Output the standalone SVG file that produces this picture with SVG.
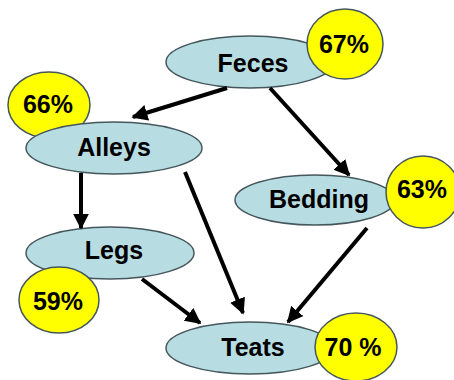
<svg xmlns="http://www.w3.org/2000/svg" width="454" height="380" viewBox="0 0 454 380">
<defs>
<marker id="ah" viewBox="0 0 10 10" refX="9" refY="5" markerWidth="4" markerHeight="4" orient="auto" markerUnits="strokeWidth">
<path d="M0,0 L10,5 L0,10 Z" fill="#000"/>
</marker>
<style>
.node{fill:#B7DDE3;stroke:#45575C;stroke-width:1.5}
.pct{fill:#FFFF00;stroke:#45575C;stroke-width:1.5}
.lbl{font-family:"Liberation Sans",Arial,sans-serif;font-weight:bold;font-size:25px;fill:#000;text-anchor:middle}
.plbl{font-family:"Liberation Sans",Arial,sans-serif;font-weight:bold;font-size:25px;fill:#000;text-anchor:middle}
.edge{stroke:#000;stroke-width:4;fill:none;marker-end:url(#ah)}
</style>
</defs>
<rect width="454" height="380" fill="#fff"/>
<g id="feces">
<ellipse class="node" cx="250" cy="62" rx="84" ry="26"/>
<text class="lbl" x="253" y="72">Feces</text>
<ellipse class="pct" cx="345" cy="44" rx="38" ry="35"/>
<text class="plbl" x="344" y="53">67%</text>
</g>
<g id="alleys">
<ellipse class="pct" cx="49" cy="105" rx="41" ry="33"/>
<text class="plbl" x="48" y="113">66%</text>
<ellipse class="node" cx="114" cy="148" rx="88" ry="26"/>
<text class="lbl" x="114" y="156">Alleys</text>
</g>
<g id="bedding">
<ellipse class="node" cx="315" cy="200" rx="80" ry="25"/>
<text class="lbl" x="319" y="208">Bedding</text>
<ellipse class="pct" cx="423" cy="192" rx="37" ry="36"/>
<text class="plbl" x="422" y="198">63%</text>
</g>
<g id="legs">
<ellipse class="node" cx="110" cy="253" rx="84" ry="26"/>
<text class="lbl" x="114" y="259">Legs</text>
<ellipse class="pct" cx="59" cy="300" rx="40" ry="33"/>
<text class="plbl" x="58" y="310">59%</text>
</g>
<g id="teats">
<ellipse class="node" cx="250" cy="348" rx="84" ry="26"/>
<text class="lbl" x="253" y="356">Teats</text>
<ellipse class="pct" cx="356" cy="347" rx="41" ry="34"/>
<text class="plbl" x="353" y="356">70 %</text>
</g>
<g id="connectors">
<line class="edge" x1="227" y1="88" x2="133" y2="117"/>
<line class="edge" x1="270" y1="88" x2="349" y2="175"/>
<line class="edge" x1="81" y1="173" x2="81" y2="228"/>
<line class="edge" x1="185" y1="172" x2="243" y2="313"/>
<line class="edge" x1="142" y1="279" x2="200" y2="323"/>
<line class="edge" x1="367" y1="228" x2="288" y2="322"/>
</g>
</svg>
